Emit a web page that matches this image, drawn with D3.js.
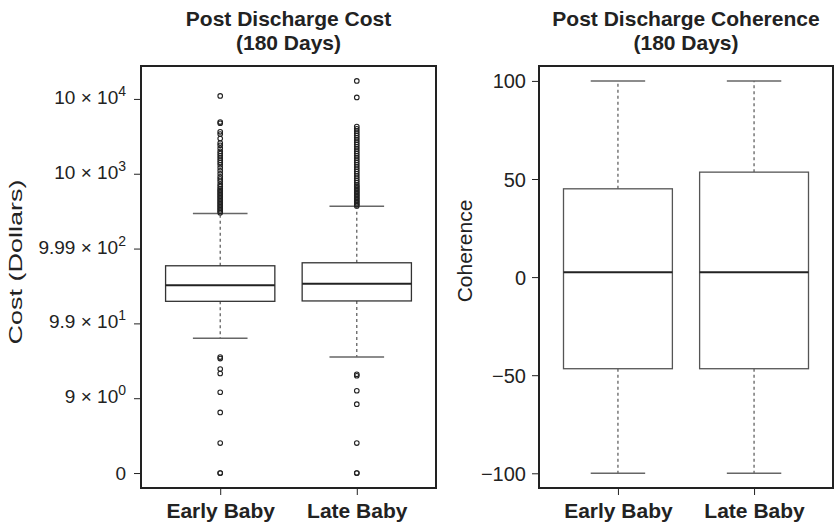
<!DOCTYPE html>
<html>
<head>
<meta charset="utf-8">
<script src="https://cdn.jsdelivr.net/npm/d3@7"></script>
<style>
  body { margin: 0; background: #fff; }
  svg { display: block; font-family: "Liberation Sans", Arial, Helvetica, sans-serif; }
  .chart-title { font-weight: bold; font-size: 21px; text-anchor: middle; fill: #222; }
  .axis-title { font-size: 21px; text-anchor: middle; fill: #222; }
  .tick-label { font-size: 19px; fill: #222; }
  .cat-label { font-weight: bold; font-size: 21px; text-anchor: middle; fill: #222; }
</style>
</head>
<body>
<svg id="chart" width="834" height="525"></svg>
<script>
// categories
const groups = ['Early Baby', 'Late Baby'];

// cost panel: y is log10(cost + 1), labels as printed
const costTicks = [0, 1, 2, 3, 4, 5];
const costTickMantissa = ['0', '9', '9.9', '9.99', '10', '10'];
const costTickExponent = [null, '0', '1', '2', '3', '4'];
const costWhiskerLow = [1.80, 1.55];
const costQ1 = [2.295, 2.30];
const costMedian = [2.51, 2.53];
const costQ3 = [2.77, 2.81];
const costWhiskerHigh = [3.47, 3.565];
const costOutliersEarly = [
    0, 0, 0.40, 0.81, 1.08, 1.33, 1.39, 1.53, 1.55,
    3.48, 3.50, 3.52, 3.54, 3.56, 3.58, 3.60, 3.62, 3.64, 3.66, 3.68, 3.70,
    3.72, 3.74, 3.76, 3.78, 3.80, 3.83, 3.86, 3.90, 3.93, 3.96, 4.00, 4.04,
    4.08, 4.12, 4.15, 4.18, 4.21, 4.24, 4.27, 4.30, 4.34, 4.38, 4.41,
    4.47, 4.53, 4.56, 4.675, 4.69, 5.04
];
const costOutliersLate = [
    0, 0, 0.40, 0.92, 1.10, 1.30, 1.32,
    3.57, 3.59, 3.61, 3.63, 3.65, 3.67, 3.69, 3.71, 3.73, 3.75, 3.77, 3.79,
    3.81, 3.83, 3.85, 3.88, 3.91, 3.94, 3.97, 4.00, 4.03, 4.06, 4.09, 4.12,
    4.15, 4.18, 4.21, 4.24, 4.27, 4.30, 4.33, 4.36, 4.39, 4.42, 4.45, 4.48,
    4.51, 4.54, 4.57, 4.60, 4.63, 5.02, 5.24
];

// coherence panel
const cohTicks = [-100, -50, 0, 50, 100];
const cohWhiskerLow = [-100, -100];
const cohQ1 = [-46.7, -46.7];
const cohMedian = [2.5, 2.5];
const cohQ3 = [45, 53.5];
const cohWhiskerHigh = [100, 100];

/**
 * Boxplot panel
 */
class BoxPanel {

    constructor(_config, _data) {
        this.config = {
            svg: _config.svg,
            left: _config.left,
            top: _config.top || 66,
            width: _config.width || 295,
            height: _config.height || 422,
            yDomain: _config.yDomain,
            title: _config.title,
            yTitle: _config.yTitle,
            yTitleX: _config.yTitleX,
            yTitleY: _config.yTitleY,
            yTitleSize: _config.yTitleSize,
            yTitleLength: _config.yTitleLength,
            boxStroke: _config.boxStroke || '#333',
            tickLabel: _config.tickLabel
        };
        this.data = _data;
        this.initVis();
    }

    initVis() {
        let vis = this;
        const c = vis.config;

        vis.xScale = d3.scaleLinear().domain([0.42, 2.58]).range([0, c.width]);
        vis.yScale = d3.scaleLinear().domain(c.yDomain).range([c.height, 0]);

        vis.g = c.svg.append('g')
            .attr('transform', `translate(${c.left},${c.top})`);

        // titles
        const cx = c.left + c.width / 2;
        const title = c.svg.append('text')
            .attr('class', 'chart-title')
            .attr('x', cx)
            .attr('y', 26);
        title.append('tspan').attr('x', cx).text(c.title[0]);
        title.append('tspan').attr('x', cx).attr('dy', 23.5).text(c.title[1]);

        const yt = c.svg.append('text')
            .attr('class', 'axis-title')
            .attr('transform', `translate(${c.yTitleX},${c.yTitleY}) rotate(-90)`)
            .text(c.yTitle);
        if (c.yTitleSize) yt.style('font-size', c.yTitleSize + 'px');
        if (c.yTitleLength) {
            yt.attr('textLength', c.yTitleLength).attr('lengthAdjust', 'spacingAndGlyphs');
        }

        vis.renderVis();
    }

    renderVis() {
        let vis = this;
        const c = vis.config;
        const x = vis.xScale, y = vis.yScale;
        const boxW = x(1.4) - x(0.6);
        const capW = boxW / 2;

        // y axis
        const yAxis = d3.axisLeft(y)
            .tickValues(vis.data.ticks)
            .tickSize(6)
            .tickFormat('');
        const yAxisG = vis.g.append('g').attr('transform', 'translate(-1,0)').call(yAxis);
        yAxisG.select('.domain').remove();
        yAxisG.selectAll('.tick line').attr('stroke', '#222').attr('stroke-width', 1);

        yAxisG.selectAll('.tick').each(function (d, i) {
            const t = d3.select(this).append('text')
                .attr('class', 'tick-label')
                .attr('text-anchor', 'end');
            c.tickLabel(t, d, i);
        });

        // x axis
        const xAxis = d3.axisBottom(x)
            .tickValues([1, 2])
            .tickSize(6)
            .tickFormat((d, i) => groups[i]);
        const xAxisG = vis.g.append('g').attr('transform', `translate(0,${c.height + 1})`).call(xAxis);
        xAxisG.select('.domain').remove();
        xAxisG.selectAll('.tick line').attr('stroke', '#222');
        xAxisG.selectAll('.tick text')
            .attr('class', 'cat-label')
            .attr('dy', null)
            .attr('y', 29)
            .attr('font-size', null)
            .attr('font-family', null);

        const d = vis.data;
        const boxes = groups.map((name, i) => ({
            name, pos: i + 1,
            lo: d.whiskerLow[i], q1: d.q1[i], med: d.median[i], q3: d.q3[i], hi: d.whiskerHigh[i],
            out: d.outliers[i]
        }));

        const bg = vis.g.selectAll('.box-group')
            .data(boxes)
            .join('g')
            .attr('class', 'box-group');

        // whiskers
        bg.append('line')
            .attr('x1', b => x(b.pos)).attr('x2', b => x(b.pos))
            .attr('y1', b => y(b.q3)).attr('y2', b => y(b.hi))
            .attr('stroke', '#555').attr('stroke-width', 1.2).attr('stroke-dasharray', '3,3');
        bg.append('line')
            .attr('x1', b => x(b.pos)).attr('x2', b => x(b.pos))
            .attr('y1', b => y(b.q1)).attr('y2', b => y(b.lo))
            .attr('stroke', '#555').attr('stroke-width', 1.2).attr('stroke-dasharray', '3,3');

        // staples
        ['hi', 'lo'].forEach(k => {
            bg.append('line')
                .attr('x1', b => x(b.pos) - capW / 2).attr('x2', b => x(b.pos) + capW / 2)
                .attr('y1', b => y(b[k])).attr('y2', b => y(b[k]))
                .attr('stroke', '#666').attr('stroke-width', 1.5);
        });

        // box
        bg.append('rect')
            .attr('x', b => x(b.pos) - boxW / 2)
            .attr('width', boxW)
            .attr('y', b => y(b.q3))
            .attr('height', b => y(b.q1) - y(b.q3))
            .attr('fill', '#fff')
            .attr('stroke', c.boxStroke)
            .attr('stroke-width', 1.3);

        // median
        bg.append('line')
            .attr('x1', b => x(b.pos) - boxW / 2).attr('x2', b => x(b.pos) + boxW / 2)
            .attr('y1', b => y(b.med)).attr('y2', b => y(b.med))
            .attr('stroke', '#222').attr('stroke-width', 2);

        // outliers
        bg.selectAll('.outlier')
            .data(b => b.out.map(v => ({ pos: b.pos, v })))
            .join('circle')
            .attr('class', 'outlier')
            .attr('cx', o => x(o.pos))
            .attr('cy', o => y(o.v))
            .attr('r', 2.3)
            .attr('fill', 'none')
            .attr('stroke', '#222')
            .attr('stroke-width', 1.1);

        // frame
        vis.g.append('rect')
            .attr('width', c.width)
            .attr('height', c.height)
            .attr('fill', 'none')
            .attr('stroke', '#222')
            .attr('stroke-width', 2);
    }
}

const svg = d3.select('#chart');

new BoxPanel({
    svg,
    left: 141,
    yDomain: [-0.2, 5.44],
    title: ['Post Discharge Cost', '(180 Days)'],
    yTitle: 'Cost (Dollars)',
    yTitleX: 22,
    yTitleY: 262,
    yTitleSize: 18,
    yTitleLength: 165,
    tickLabel: (t, d, i) => {
        t.attr('x', -14).attr('y', 4.5);
        if (costTickExponent[i] === null) {
            t.attr('y', 6).text(costTickMantissa[i]);
        } else {
            t.append('tspan').text(costTickMantissa[i] + ' \u00d7 10');
            t.append('tspan').attr('dy', -8).attr('font-size', '14px').text(costTickExponent[i]);
        }
    }
}, {
    ticks: costTicks,
    whiskerLow: costWhiskerLow, q1: costQ1, median: costMedian, q3: costQ3, whiskerHigh: costWhiskerHigh,
    outliers: [costOutliersEarly, costOutliersLate]
});

new BoxPanel({
    svg,
    left: 539,
    width: 294,
    yDomain: [-107.5, 107.6],
    title: ['Post Discharge Coherence', '(180 Days)'],
    yTitle: 'Coherence',
    yTitleX: 472,
    yTitleY: 251,
    boxStroke: '#555',
    tickLabel: (t, d) => {
        t.text(d < 0 ? '\u2212' + Math.abs(d) : String(d))
            .attr('x', -12).attr('y', 7)
            .style('font-size', '20px');
    }
}, {
    ticks: cohTicks,
    whiskerLow: cohWhiskerLow, q1: cohQ1, median: cohMedian, q3: cohQ3, whiskerHigh: cohWhiskerHigh,
    outliers: [[], []]
});
</script>
</body>
</html>
